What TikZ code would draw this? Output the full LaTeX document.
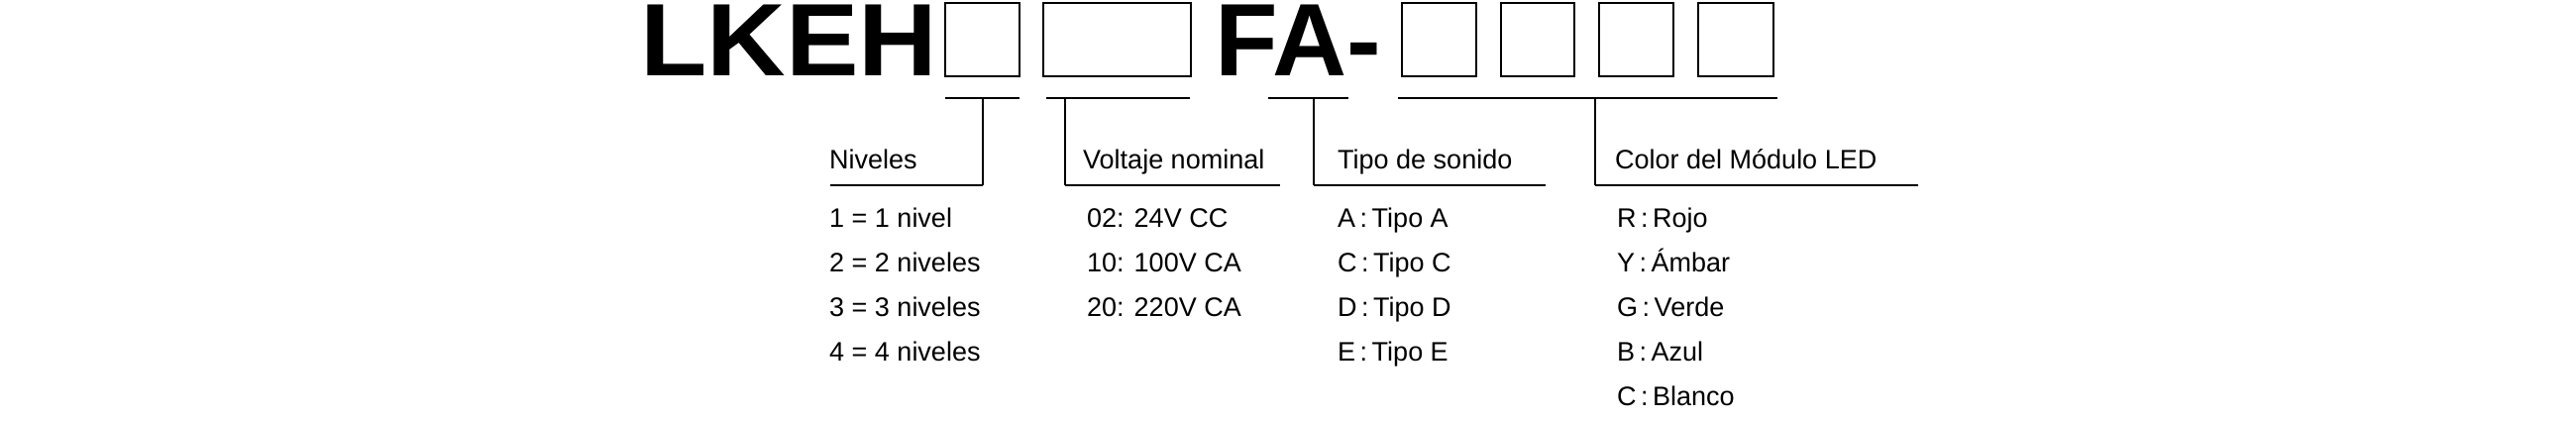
\documentclass[tikz,border=0pt]{standalone}
\usepackage{fontspec}
\setmainfont{Liberation Sans}
\begin{document}
\begin{tikzpicture}[x=1pt,y=-1pt,
  title/.style={inner sep=0pt,anchor=base west,font=\fontsize{104}{110}\selectfont\bfseries},
  slot/.style={draw,line width=2.5pt},
  lbl/.style={inner sep=0pt,anchor=base west,font=\fontsize{27}{30}\selectfont},
  itm/.style={inner sep=0pt,anchor=base west,font=\fontsize{27}{30}\selectfont},
  bar/.style={line width=2.5pt},
  stem/.style={line width=1.5pt}]
\useasboundingbox (0,0) rectangle (2600,425);
\node[title] (t1) at (646,77) {\scalebox{1.06}[1]{LKEH}};
\node[title] (t2) at (1226,77) {FA-};
\foreach \n/\a/\b in {b1/954/1029,b2/1053/1202,b3/1415/1490,b4/1515/1589,b5/1614/1689,b6/1714/1790}
  \draw[slot] (\a,3) rectangle (\b,77) coordinate (\n);
% brackets
\coordinate (s1a) at (954,99); \coordinate (s1b) at (1029,99); \coordinate (v1) at (992,99);
\coordinate (s2a) at (1056,99); \coordinate (s2b) at (1201,99); \coordinate (v2) at (1075,99);
\coordinate (s3a) at (1280,99); \coordinate (s3b) at (1361,99); \coordinate (v3) at (1326,99);
\coordinate (s4a) at (1411,99); \coordinate (s4b) at (1794,99); \coordinate (v4) at (1610,99);
\coordinate (h1a) at (838,187); \coordinate (h1b) at (992,187);
\coordinate (h2a) at (1075,187); \coordinate (h2b) at (1292,187);
\coordinate (h3a) at (1326,187); \coordinate (h3b) at (1560,187);
\coordinate (h4a) at (1610,187); \coordinate (h4b) at (1936,187);
\foreach \i in {1,2,3,4} {
  \draw[bar] (s\i a) -- (s\i b);
  \draw[bar] (h\i a) -- (h\i b);
}
\draw[stem] (v1) -- (h1b);
\draw[stem] (v2) -- (h2a);
\draw[stem] (v3) -- (h3a);
\draw[stem] (v4) -- (h4a);
% labels
\node[lbl] (l1) at (837,171) {Niveles};
\node[lbl] (l2) at (1093,171) {Voltaje nominal};
\node[lbl] (l3) at (1350,171) {Tipo de sonido};
\node[lbl] (l4) at (1630,171) {Color del Módulo LED};
% items
\foreach \t [count=\k] in {1 = 1 nivel,2 = 2 niveles,3 = 3 niveles,4 = 4 niveles}
  \node[itm] (a\k) at (837,184+45*\k) {\t};
\foreach \t [count=\k] in {02: 24V CC,10: 100V CA,20: 220V CA}
  \node[itm] (b\k) at (1097,184+45*\k) {\t};
\foreach \c/\t [count=\k] in {A/Tipo A,C/Tipo C,D/Tipo D,E/Tipo E}
  \node[itm] (c\k) at (1350,184+45*\k) {\c\,:\,\t};
\foreach \c/\t [count=\k] in {R/Rojo,Y/Ámbar,G/Verde,B/Azul,C/Blanco}
  \node[itm] (d\k) at (1632,184+45*\k) {\c\,:\,\t};
\end{tikzpicture}
\end{document}
